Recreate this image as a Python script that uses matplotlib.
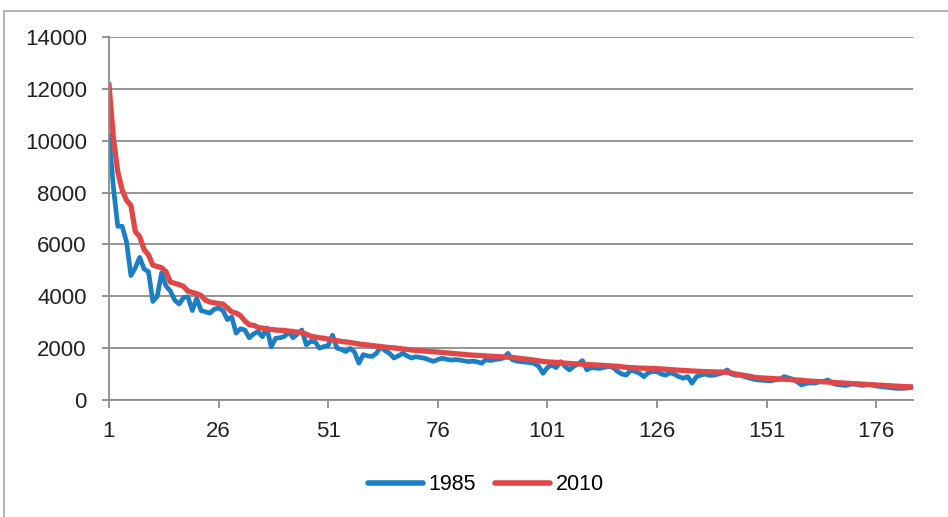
import numpy as np
import matplotlib
matplotlib.use("Agg")
import matplotlib.pyplot as plt
from matplotlib.patches import Rectangle

plt.rcParams['font.family'] = ['Liberation Sans', 'DejaVu Sans']

# series values, one per category 1..184
y1985 = [
    10200, 8200, 6700, 6700, 6100, 4800, 5100, 5500, 5050, 4950,
    3800, 4000, 4900, 4400, 4200, 3850, 3700, 3950, 3980, 3450,
    3920, 3450, 3400, 3350, 3500, 3550, 3450, 3100, 3200, 2580,
    2750, 2700, 2400, 2550, 2640, 2440, 2780, 2050, 2380, 2400,
    2450, 2630, 2400, 2550, 2700, 2130, 2260, 2250, 2000, 2060,
    2100, 2500, 2000, 1950, 1870, 1990, 1850, 1420, 1750, 1700,
    1680, 1800, 2060, 1900, 1800, 1620, 1700, 1800, 1700, 1620,
    1670, 1640, 1610, 1550, 1490, 1560, 1610, 1570, 1540, 1560,
    1540, 1510, 1480, 1500, 1470, 1420, 1560, 1520, 1560, 1580,
    1620, 1800, 1550, 1500, 1480, 1460, 1440, 1410, 1300, 1030,
    1250, 1350, 1250, 1480, 1300, 1160, 1300, 1380, 1520, 1160,
    1250, 1230, 1220, 1260, 1290, 1250, 1100, 1000, 960, 1150,
    1100, 1030, 900, 1050, 1100, 1090, 1000, 960, 1050, 990,
    900, 840, 900, 650, 900, 960, 1000, 950, 960, 1000,
    1050, 1160, 1000, 950, 960, 900, 850, 800, 780, 760,
    750, 740, 780, 800, 900, 850, 800, 700, 580, 640,
    660, 650, 700, 720, 770, 650, 600, 580, 560, 600,
    620, 580, 560, 600, 580, 540, 520, 500, 480, 460,
    450, 450, 460, 490,
]

y2010 = [
    12150, 10100, 8800, 8100, 7700, 7500, 6500, 6300, 5800, 5600,
    5200, 5150, 5100, 4950, 4550, 4500, 4450, 4380, 4200, 4150,
    4100, 4030, 3850, 3780, 3750, 3720, 3700, 3550, 3400, 3350,
    3250, 3050, 2900, 2880, 2800, 2770, 2740, 2720, 2700, 2690,
    2680, 2660, 2640, 2620, 2600, 2540, 2460, 2430, 2400, 2380,
    2350, 2320, 2290, 2260, 2240, 2220, 2190, 2160, 2140, 2120,
    2100, 2080, 2060, 2040, 2020, 2010, 1990, 1970, 1950, 1930,
    1910, 1900, 1890, 1870, 1860, 1850, 1830, 1820, 1800, 1790,
    1770, 1760, 1740, 1730, 1720, 1710, 1700, 1690, 1680, 1670,
    1660, 1650, 1640, 1620, 1600, 1580, 1560, 1540, 1510, 1490,
    1470, 1460, 1450, 1440, 1420, 1410, 1400, 1390, 1380, 1370,
    1360, 1350, 1340, 1330, 1320, 1310, 1300, 1280, 1260, 1250,
    1240, 1230, 1225, 1220, 1215, 1210, 1200, 1185, 1170, 1160,
    1150, 1140, 1130, 1120, 1110, 1100, 1095, 1090, 1085, 1080,
    1075, 1070, 1040, 1000, 970, 950, 920, 880, 860, 850,
    840, 830, 820, 810, 800, 790, 780, 770, 760, 740,
    730, 720, 710, 700, 690, 680, 670, 660, 650, 640,
    630, 620, 610, 600, 590, 580, 570, 560, 550, 540,
    530, 520, 515, 505,
]

categories = np.arange(1, len(y2010) + 1)
x_ticks = [1, 26, 51, 76, 101, 126, 151, 176]
y_ticks = [0, 2000, 4000, 6000, 8000, 10000, 12000, 14000]

grid_col = "#8c8c8c"
blue = "#1c7fc4"
red = "#e04848"

fig = plt.figure(figsize=(9.48, 5.17), dpi=100)
ax = fig.add_axes([109/948, 1 - 400/517, (913 - 109)/948, (400 - 37)/517])

ax.plot(categories, y1985, color=blue, lw=3.4, label="1985", solid_joinstyle="round")
ax.plot(categories, y2010, color=red, lw=3.8, label="2010", solid_joinstyle="round")

ax.set_xlim(1, len(y2010) + 0.4)
ax.set_ylim(0, 14000)
ax.set_xticks(x_ticks)
ax.set_yticks(y_ticks)
ax.set_yticklabels([str(v) for v in y_ticks])
ax.grid(axis="y", color=grid_col, lw=1.3)
ax.set_axisbelow(True)

for s in ["top", "right"]:
    ax.spines[s].set_visible(False)
for s in ["left", "bottom"]:
    ax.spines[s].set_color(grid_col)
    ax.spines[s].set_linewidth(1.3)

ax.tick_params(axis="x", length=6, width=1.3, color=grid_col, labelsize=16,
               labelcolor="#222222", pad=9)
ax.tick_params(axis="y", length=5, width=1.3, color=grid_col, labelsize=16,
               labelcolor="#222222", pad=11)

# chart area border
fig.patches.append(Rectangle((4/948, -0.05), 1.0, (517 - 11)/517 + 0.05,
                             transform=fig.transFigure, fill=False,
                             edgecolor="#a6a6a6", lw=1.2, clip_on=False))

leg = fig.legend(loc="center", bbox_to_anchor=(486/948, 1 - 485/517), ncol=2,
                 frameon=False, fontsize=15.5, handlelength=2.55,
                 handletextpad=0.25, columnspacing=0.9)
for line in leg.get_lines():
    line.set_linewidth(4)
    line.set_solid_capstyle("round")

fig.savefig("out.png", dpi=100)
